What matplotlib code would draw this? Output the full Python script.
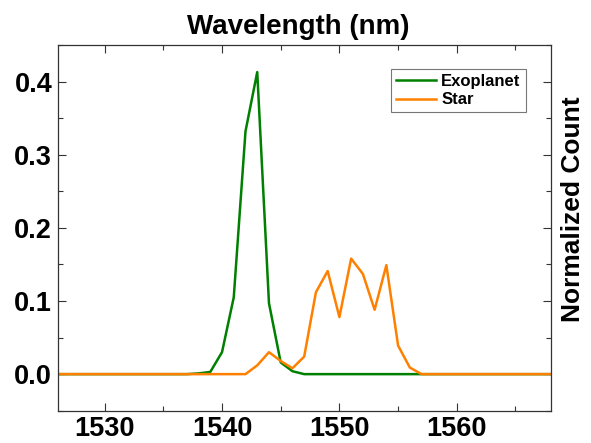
import matplotlib
matplotlib.use("Agg")
import matplotlib.pyplot as plt
from matplotlib.ticker import MultipleLocator

plt.rcParams['font.family'] = ['Liberation Sans', 'DejaVu Sans']
plt.rcParams['font.weight'] = 'bold'

# wavelength grid (nm) and normalized counts
wavelength = [1525, 1526, 1527, 1528, 1529, 1530, 1531, 1532, 1533, 1534,
              1535, 1536, 1537, 1538, 1539, 1540, 1541, 1542, 1543, 1544,
              1545, 1546, 1547, 1548, 1549, 1550, 1551, 1552, 1553, 1554,
              1555, 1556, 1557, 1558, 1559, 1560, 1561, 1562, 1563, 1564,
              1565, 1566, 1567, 1568, 1569]
exoplanet = [0, 0, 0, 0, 0, 0, 0, 0, 0, 0,
             0, 0, 0, 0.001, 0.003, 0.030, 0.105, 0.332, 0.413, 0.097,
             0.016, 0.004, 0, 0, 0, 0, 0, 0, 0, 0,
             0, 0, 0, 0, 0, 0, 0, 0, 0, 0,
             0, 0, 0, 0, 0]
star = [0, 0, 0, 0, 0, 0, 0, 0, 0, 0,
        0, 0, 0, 0, 0, 0, 0, 0, 0.012, 0.030,
        0.018, 0.008, 0.024, 0.112, 0.141, 0.078, 0.158, 0.137, 0.088, 0.149,
        0.039, 0.009, 0, 0, 0, 0, 0, 0, 0, 0,
        0, 0, 0, 0, 0]

fig = plt.figure(figsize=(5.91, 4.43), dpi=100)
ax = fig.add_axes([0.0976, 0.0729, 0.8342, 0.8255])

ax.plot(wavelength, exoplanet, color='#008000', lw=1.8, label='Exoplanet')
ax.plot(wavelength, star, color='#ff8000', lw=1.8, label='Star')

ax.set_xlim(1526, 1568)
ax.set_ylim(-0.05, 0.45)
ax.xaxis.set_major_locator(MultipleLocator(10))
ax.xaxis.set_minor_locator(MultipleLocator(5))
ax.yaxis.set_major_locator(MultipleLocator(0.1))
ax.yaxis.set_minor_locator(MultipleLocator(0.05))
ax.tick_params(which='both', direction='in', top=True, right=True,
               color='#333333', width=0.8)
ax.tick_params(which='major', length=6, labelsize=19.5, pad=4)
ax.tick_params(which='minor', length=3.5)
ax.set_yticks([0.0, 0.1, 0.2, 0.3, 0.4])
ax.set_yticklabels(['0.0', '0.1', '0.2', '0.3', '0.4'])
for s in ax.spines.values():
    s.set_color('#333333')
    s.set_linewidth(0.9)

ax.set_title('Wavelength (nm)', fontsize=20, fontweight='bold', pad=8, x=0.487)
ax.yaxis.set_label_position('right')
ax.set_ylabel('Normalized Count', fontsize=19, fontweight='bold')
ax.yaxis.set_label_coords(1.021, 0.551)

leg = ax.legend(loc='upper right', bbox_to_anchor=(0.949, 0.934),
                borderaxespad=0, fontsize=12, handlelength=2.4,
                handletextpad=0.3, fancybox=False, edgecolor='#555555',
                borderpad=0.3, labelspacing=0.2)
leg.get_frame().set_linewidth(0.8)

fig.savefig('out.png', dpi=100)
